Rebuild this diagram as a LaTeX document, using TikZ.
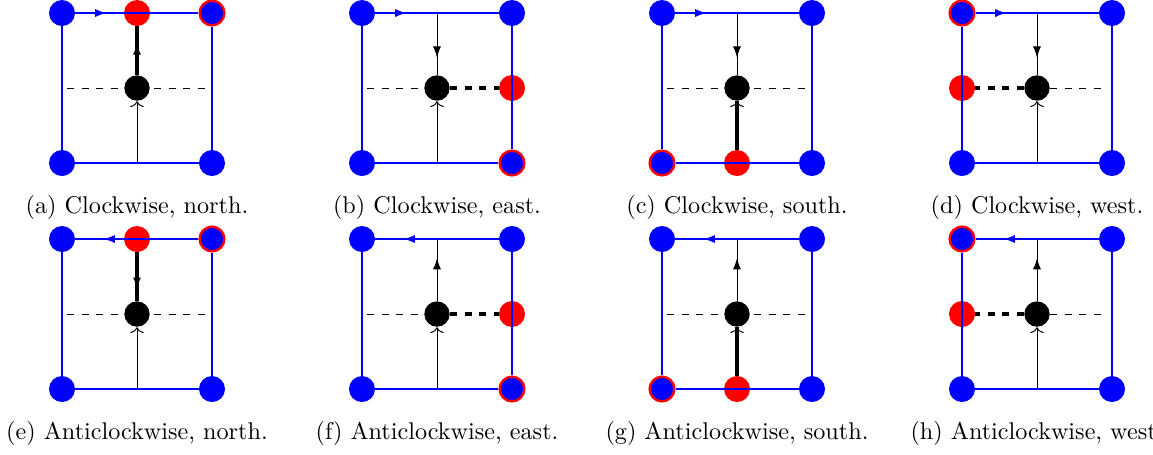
\documentclass[tikz,border=0pt]{standalone}
\usetikzlibrary{decorations.markings,arrows.meta}
\pgfdeclarelayer{bg}
\pgfsetlayers{bg,main}
\tikzset{
  bnode/.style={circle,fill=blue,minimum size=10.75pt,inner sep=0pt},
  ringnode/.style={circle,fill=blue,draw=red,line width=1pt,minimum size=10.2pt,inner sep=0pt},
  rednode/.style={circle,fill=red,minimum size=10.75pt,inner sep=0pt},
  knode/.style={circle,fill=black,minimum size=10.5pt,inner sep=0pt},
  captext/.style={anchor=base,inner sep=0pt},
  bedge/.style={draw=blue,line width=0.5pt},
  kline/.style={draw=black,line width=0.4pt},
  kthick/.style={draw=black,line width=1.3pt},
  totip/.style={-{To[length=2.4pt,width=5.6pt]}},
  midarrow/.style={postaction={decorate},decoration={markings,mark=at position #1 with {\arrow{Latex[length=4.6pt,width=3.3pt]}}}},
  thickarrow/.style={postaction={decorate},decoration={markings,mark=at position #1 with {\arrow{Latex[length=4.4pt,width=3.4pt]}}}},
  bluearrow/.style={postaction={decorate},decoration={markings,mark=at position #1 with {\arrow[blue]{Latex[length=4.6pt,width=3.4pt]}}}},
}
\newcommand\basepanel[8]{%
  \begin{scope}[shift={(#2,#3)}]
    \node[#5] (#1TL) at (62,13) {};
    \node[#6] (#1TR) at (212,13) {};
    \node[#7] (#1BL) at (62,163) {};
    \node[#8] (#1BR) at (212,163) {};
    \node[knode] (#1C) at (137,88) {};
    \coordinate (#1N) at (137,13);
    \coordinate (#1S) at (137,163);
    \coordinate (#1W) at (62,88);
    \coordinate (#1E) at (212,88);
    \coordinate (#1WL) at (67,88);
    \coordinate (#1ER) at (207,88);
    \node[captext] (#1cap) at (137,213) {#4};
  \end{scope}}
\newcommand\cwedges[1]{%
  \draw[bedge,bluearrow=0.25] (#1TL) -- (#1TR);
  \draw[bedge] (#1TL) -- (#1BL);
  \draw[bedge] (#1BL) -- (#1BR);
  \draw[bedge] (#1TR) -- (#1BR);}
\newcommand\acwedges[1]{%
  \draw[bedge,bluearrow=0.77] (#1TR) -- (#1TL);
  \draw[bedge] (#1TL) -- (#1BL);
  \draw[bedge] (#1BL) -- (#1BR);
  \draw[bedge] (#1TR) -- (#1BR);}
\newcommand\fulldash[1]{%
  \begin{pgfonlayer}{bg}\draw[kline,dashed] (#1WL) -- (#1ER);\end{pgfonlayer}}
\begin{document}
\begin{tikzpicture}[x=0.4134pt,y=-0.4134pt]
\useasboundingbox (0,0) rectangle (1153,454);
% (a)
\basepanel{a}{0}{0}{(a) Clockwise, north.}{bnode}{ringnode}{bnode}{bnode}
\node[rednode] (aM) at (aN) {};
\draw[kthick,thickarrow=0.64] (aC) -- (aM);
\draw[kline,totip] (aS) -- (aC);
\fulldash{a}
\cwedges{a}
% (b)
\basepanel{b}{300}{0}{(b) Clockwise, east.}{bnode}{bnode}{bnode}{ringnode}
\node[rednode] (bM) at (bE) {};
\draw[kline,midarrow=0.72] (bN) -- (bC);
\draw[kline,totip] (bS) -- (bC);
\draw[kline,dashed] (bWL) -- (bC);
\draw[kthick,dashed] (bC) -- (bM);
\cwedges{b}
% (c)
\basepanel{c}{600}{0}{(c) Clockwise, south.}{bnode}{bnode}{ringnode}{bnode}
\node[rednode] (cM) at (cS) {};
\draw[kline,midarrow=0.72] (cN) -- (cC);
\draw[kthick] (cM) -- (cC);
\draw[kline,totip] (cM) -- (cC);
\fulldash{c}
\cwedges{c}
% (d)
\basepanel{d}{900}{0}{(d) Clockwise, west.}{ringnode}{bnode}{bnode}{bnode}
\node[rednode] (dM) at (dW) {};
\draw[kline,midarrow=0.72] (dN) -- (dC);
\draw[kline,totip] (dS) -- (dC);
\draw[kthick,dashed] (dC) -- (dM);
\draw[kline,dashed] (dC) -- (dER);
\cwedges{d}
% (e)
\basepanel{e}{0}{226}{(e) Anticlockwise, north.}{bnode}{ringnode}{bnode}{bnode}
\node[rednode] (eM) at (eN) {};
\draw[kthick,thickarrow=0.74] (eM) -- (eC);
\draw[kline,totip] (eS) -- (eC);
\fulldash{e}
\acwedges{e}
% (f)
\basepanel{f}{300}{226}{(f) Anticlockwise, east.}{bnode}{bnode}{bnode}{ringnode}
\node[rednode] (fM) at (fE) {};
\draw[kline,midarrow=0.69] (fC) -- (fN);
\draw[kline,totip] (fS) -- (fC);
\draw[kline,dashed] (fWL) -- (fC);
\draw[kthick,dashed] (fC) -- (fM);
\acwedges{f}
% (g)
\basepanel{g}{600}{226}{(g) Anticlockwise, south.}{bnode}{bnode}{ringnode}{bnode}
\node[rednode] (gM) at (gS) {};
\draw[kline,midarrow=0.69] (gC) -- (gN);
\draw[kthick] (gM) -- (gC);
\draw[kline,totip] (gM) -- (gC);
\fulldash{g}
\acwedges{g}
% (h)
\basepanel{h}{900}{226}{(h) Anticlockwise, west.}{ringnode}{bnode}{bnode}{bnode}
\node[rednode] (hM) at (hW) {};
\draw[kline,midarrow=0.69] (hC) -- (hN);
\draw[kline,totip] (hS) -- (hC);
\draw[kthick,dashed] (hC) -- (hM);
\draw[kline,dashed] (hC) -- (hER);
\acwedges{h}
\end{tikzpicture}
\end{document}
